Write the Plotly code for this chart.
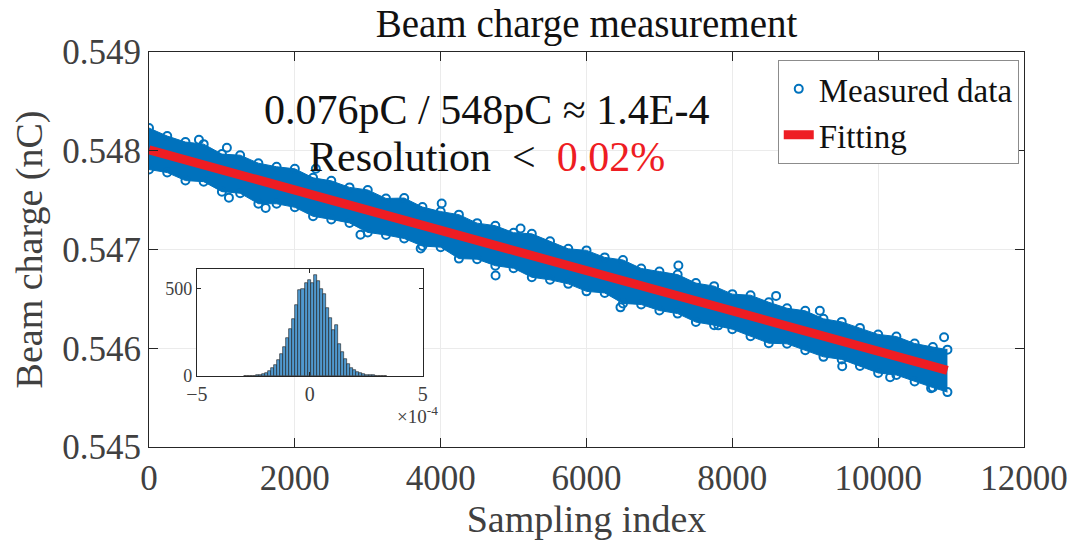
import plotly.graph_objects as go

FONT = 'Liberation Serif'
BLUE = '#0072BD'
RED = '#EE1D23'
AXIS = '#262626'

# sampled edges of the measured-data band (index, nC)
sample_index = [0, 250, 500, 750, 1000, 1250, 1500, 1750, 2000, 2250, 2500,
                2750, 3000, 3250, 3500, 3750, 4000, 4250, 4500, 4750, 5000,
                5250, 5500, 5750, 6000, 6250, 6500, 6750, 7000, 7250, 7500,
                7750, 8000, 8250, 8500, 8750, 9000, 9250, 9500, 9750, 10000,
                10250, 10500, 10750, 10950]
band_upper = [0.548230, 0.548149, 0.548088, 0.548067, 0.547966, 0.547955,
              0.547874, 0.547838, 0.547817, 0.547726, 0.547695, 0.547629,
              0.547603, 0.547517, 0.547521, 0.547430, 0.547384, 0.547353,
              0.547267, 0.547241, 0.547170, 0.547159, 0.547083, 0.547007,
              0.546991, 0.546920, 0.546894, 0.546808, 0.546777, 0.546746,
              0.546660, 0.546629, 0.546548, 0.546537, 0.546466, 0.546405,
              0.546379, 0.546298, 0.546267, 0.546206, 0.546140, 0.546119,
              0.546048, 0.546012, 0.545986]
band_lower = [0.547810, 0.547779, 0.547698, 0.547687, 0.547586, 0.547570,
              0.547464, 0.547463, 0.547427, 0.547336, 0.547305, 0.547269,
              0.547173, 0.547147, 0.547111, 0.547035, 0.547024, 0.546908,
              0.546902, 0.546836, 0.546810, 0.546719, 0.546693, 0.546652,
              0.546576, 0.546560, 0.546454, 0.546443, 0.546382, 0.546351,
              0.546265, 0.546234, 0.546193, 0.546122, 0.546051, 0.546045,
              0.545979, 0.545913, 0.545887, 0.545821, 0.545750, 0.545729,
              0.545663, 0.545602, 0.545556]

# stray points sticking out of the band
outlier_index = [685, 1068, 1096, 1600, 2288, 2900, 3726, 4014, 4753, 5096,
                 6466, 7260, 7808, 8600, 9200, 9507, 10164, 10726, 10904]
outlier_charge = [0.548111, 0.548030, 0.547525, 0.547420, 0.547818, 0.547150,
                  0.547010, 0.547465, 0.546737, 0.547212, 0.546414, 0.546838,
                  0.546232, 0.546530, 0.546380, 0.545818, 0.545707, 0.545596,
                  0.546111]

fit_index = [0, 10950]
fit_charge = [0.548010, 0.545776]

# inset histogram of residuals, x in units of 1e-4 nC
hist_first_center = -2.87
hist_bin_width = 0.135
hist_counts = [0, 1, 2, 2, 4, 7, 11, 19, 29, 44, 64, 90, 124, 166, 214, 268,
               325, 405, 492, 494, 528, 548, 532, 575, 540, 498, 468, 385, 330,
               260, 290, 180, 136, 96, 70, 47, 32, 22, 15, 10, 6, 4, 3, 2, 1,
               1, 0]

circle = dict(symbol='circle-open', size=8, color=BLUE, line=dict(width=2))

fig = go.Figure()

fig.add_trace(go.Scatter(
    x=sample_index, y=band_upper, mode='lines+markers',
    line=dict(color=BLUE, width=1), marker=circle,
    showlegend=False, hoverinfo='skip'))
fig.add_trace(go.Scatter(
    x=sample_index, y=band_lower, mode='lines+markers', fill='tonexty',
    fillcolor=BLUE, line=dict(color=BLUE, width=1), marker=circle,
    showlegend=False, hoverinfo='skip'))
fig.add_trace(go.Scatter(
    x=outlier_index, y=outlier_charge, mode='markers', name='Measured data',
    marker=circle))
fig.add_trace(go.Scatter(
    x=fit_index, y=fit_charge, mode='lines', name='Fitting',
    line=dict(color=RED, width=9)))

fig.add_trace(go.Bar(
    x0=hist_first_center, dx=hist_bin_width, y=hist_counts,
    xaxis='x2', yaxis='y2', showlegend=False,
    marker=dict(color='#5099CE', line=dict(color='#1A1A1A', width=0.6))))

main_axis = dict(
    showline=True, linecolor=AXIS, linewidth=1, mirror='allticks',
    ticks='inside', ticklen=9, tickcolor=AXIS, automargin=False,
    showgrid=True, gridcolor='#EBEBEB', zeroline=False,
    tickfont=dict(size=35, color='#404040'))
inset_axis = dict(
    showline=True, linecolor=AXIS, linewidth=1, mirror='allticks',
    ticks='inside', ticklen=4, tickcolor=AXIS, automargin=False,
    showgrid=False, zeroline=False)

# the page body adds 8px, so margins are trimmed on the top/left
fig.update_layout(
    width=1084, height=545,
    margin=dict(l=141, r=68, t=44, b=106),
    paper_bgcolor='white', plot_bgcolor='white',
    font=dict(family=FONT, color=AXIS),
    bargap=0,
    title=dict(text='Beam charge measurement', x=0.5, xref='paper',
               xanchor='center', y=0.971, yanchor='middle',
               font=dict(size=39, color='#111111')),
    xaxis=dict(main_axis, range=[0, 12000], dtick=2000, tickformat='d',
               title=dict(text='Sampling index', standoff=6,
                          font=dict(size=38, color='#404040'))),
    yaxis=dict(main_axis, range=[0.545, 0.549], dtick=0.001, tickformat='.3f',
               title=dict(text='Beam charge (nC)', standoff=10,
                          font=dict(size=38, color='#404040'))),
    xaxis2=dict(inset_axis, domain=[0.0548, 0.3128], anchor='y2',
                range=[-5, 5], dtick=5,
                tickfont=dict(size=20, color='#404040')),
    yaxis2=dict(inset_axis, domain=[0.1797, 0.4506], anchor='x2',
                range=[0, 610], tickvals=[0, 500],
                tickfont=dict(size=18, color='#404040')),
    legend=dict(x=0.994, y=0.98, xanchor='right', yanchor='top',
                traceorder='normal',
                bgcolor='white', bordercolor='#8C8C8C', borderwidth=1,
                font=dict(size=33, color='#111111'), tracegroupgap=0),
)

fig.add_annotation(
    text='0.076pC / 548pC \u2248 1.4E-4', x=0.386, y=0.916,
    xref='paper', yref='paper', showarrow=False,
    font=dict(size=42, color='#111111'))
fig.add_annotation(
    text='Resolution\u00a0\u00a0&lt;\u00a0\u00a0<span style="color:#EE1D23">0.02%</span>',
    x=0.386, y=0.797, xref='paper', yref='paper', showarrow=False,
    font=dict(size=42, color='#111111'))
fig.add_annotation(
    text='\u00d710<sup>-4</sup>', x=0.281, y=0.045,
    xref='paper', yref='paper', showarrow=False,
    font=dict(size=19, color='#404040'))

fig.write_html('out.html')
